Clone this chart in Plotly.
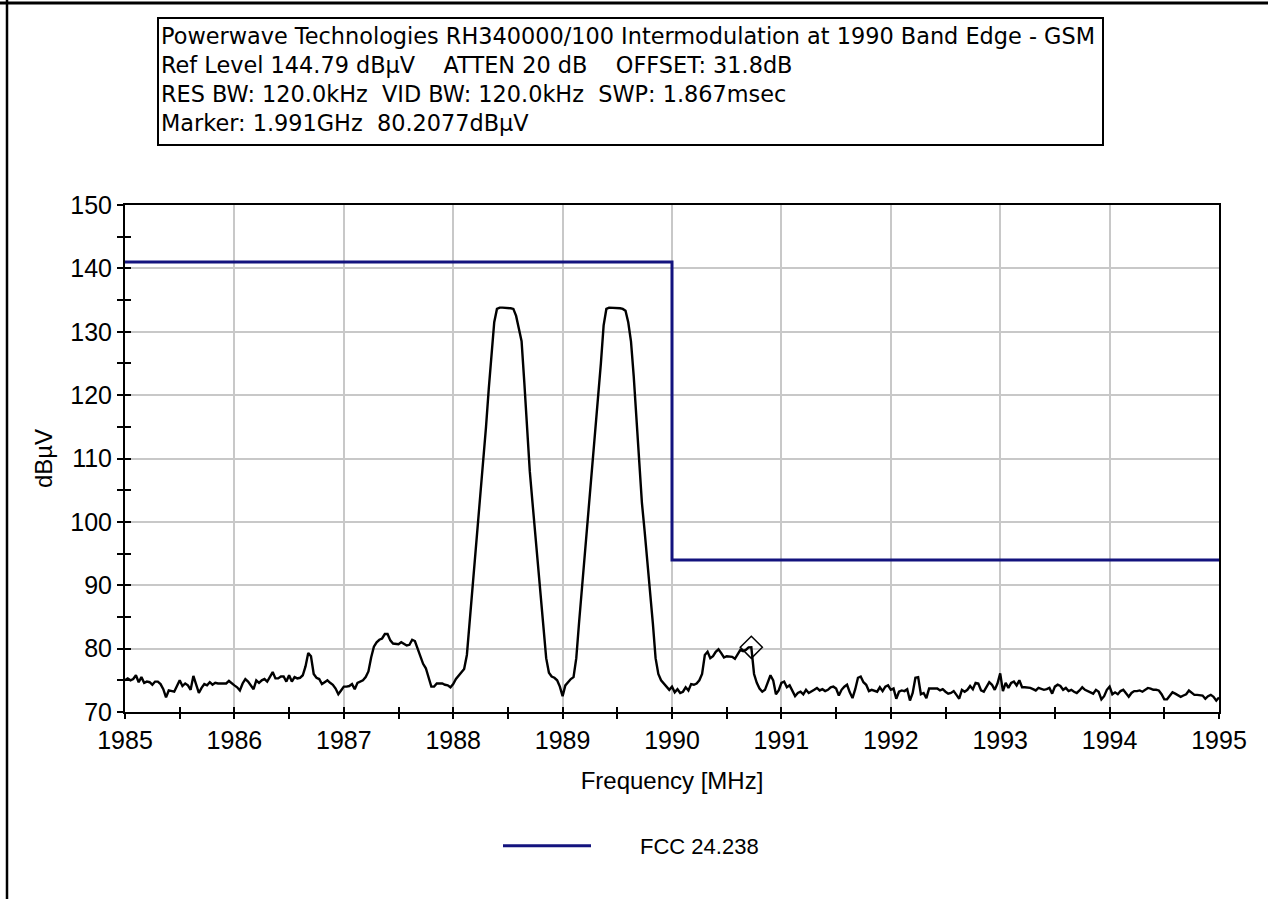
import numpy as np
import plotly.graph_objects as go

# Sweep: 1985-1995 MHz, 401 points (25 kHz spacing)
freq_start_mhz = 1985.0
freq_stop_mhz = 1995.0
sweep_points = 401

# Measured trace level (dBµV), one row per 0.5 MHz
trace_level = [
    75.0, 75.3, 75.0, 75.2, 75.8, 74.7, 75.5, 74.6, 74.8, 74.7, 74.3, 74.8, 74.8, 74.4, 73.6, 72.3, 73.4, 73.3, 73.2, 74.1,
    75.0, 74.1, 74.5, 74.2, 73.5, 75.7, 74.4, 73.0, 73.8, 74.4, 74.2, 74.7, 74.3, 74.6, 74.5, 74.5, 74.6, 74.5, 74.9, 74.5,
    74.2, 73.9, 73.4, 74.5, 75.2, 74.8, 74.2, 73.6, 75.0, 74.6, 75.0, 75.2, 74.8, 75.5, 76.3, 75.3, 75.3, 75.6, 75.6, 74.8,
    75.8, 74.8, 75.5, 75.3, 75.4, 75.8, 77.2, 79.3, 78.8, 76.0, 75.4, 75.2, 74.4, 74.7, 75.0, 74.6, 74.3, 73.7, 72.8, 73.4,
    74.0, 74.0, 74.1, 74.4, 73.6, 74.6, 74.8, 75.0, 75.5, 76.4, 78.6, 80.3, 81.0, 81.4, 81.6, 82.3, 82.3, 81.3, 80.8, 80.7,
    80.7, 81.0, 80.8, 80.5, 80.6, 81.4, 81.2, 80.0, 78.8, 77.6, 76.9, 75.5, 74.0, 74.0, 74.5, 74.5, 74.5, 74.3, 74.2, 73.9,
    74.4, 75.2, 75.8, 76.2, 76.8, 79.0, 84.0, 89.0, 94.0, 99.0, 104.0, 109.0, 115.0, 121.0, 127.0, 131.5, 133.6, 133.8, 133.8, 133.8,
    133.8, 133.7, 133.6, 132.5, 130.5, 128.5, 122.0, 115.0, 108.0, 103.0, 98.0, 93.0, 88.0, 83.0, 78.5, 76.2, 75.6, 75.4, 75.0, 74.0,
    72.5, 74.2, 74.8, 75.2, 75.5, 78.5, 84.0, 89.0, 94.0, 99.0, 104.0, 109.0, 114.0, 119.0, 125.0, 131.0, 133.6, 133.8, 133.8, 133.8,
    133.8, 133.7, 133.6, 133.3, 131.5, 128.5, 123.0, 116.0, 108.5, 103.0, 98.5, 94.0, 89.0, 84.0, 78.5, 76.0, 75.0, 74.5, 74.0, 73.5,
    74.0, 73.1, 73.6, 73.0, 73.2, 73.9, 73.4, 74.4, 74.3, 74.5, 75.0, 76.0, 79.0, 79.5, 78.5, 78.8, 79.5, 79.9, 79.3, 78.6,
    78.8, 78.8, 78.7, 78.4, 79.2, 79.8, 79.6, 79.8, 80.2, 80.2077, 76.0, 74.6, 73.7, 73.2, 73.5, 74.6, 75.8, 75.0, 72.8, 73.4,
    74.6, 74.8, 73.9, 74.2, 73.3, 72.5, 73.0, 73.2, 72.8, 73.5, 73.0, 73.2, 73.5, 73.8, 73.4, 73.6, 73.3, 73.5, 73.9, 74.0,
    73.7, 72.6, 73.5, 74.0, 74.3, 73.1, 72.2, 73.6, 75.4, 75.6, 74.7, 74.3, 73.3, 73.5, 73.3, 73.2, 73.9, 73.3, 74.0, 74.2,
    73.5, 73.7, 72.1, 73.2, 73.4, 73.3, 73.6, 71.8, 73.0, 75.4, 75.5, 72.8, 73.0, 72.2, 73.7, 73.7, 73.8, 73.7, 73.4, 73.6,
    73.2, 72.9, 73.0, 73.3, 72.7, 72.1, 73.5, 73.2, 73.5, 74.1, 73.6, 74.6, 74.5, 73.4, 73.2, 74.0, 74.7, 74.3, 73.5, 74.5,
    76.1, 73.3, 74.6, 73.8, 74.6, 74.8, 74.2, 75.0, 73.9, 73.9, 73.9, 73.8, 73.6, 73.4, 73.8, 73.7, 73.5, 73.6, 73.8, 72.9,
    74.0, 74.3, 74.1, 73.5, 73.8, 73.3, 73.5, 73.2, 73.0, 73.4, 73.9, 73.5, 73.3, 73.0, 72.9, 73.5, 73.2, 72.0, 72.5, 73.5,
    74.0, 72.8, 73.1, 72.8, 73.3, 73.5, 73.0, 72.4, 73.0, 73.3, 73.3, 73.4, 73.2, 73.5, 73.8, 73.7, 73.5, 73.5, 73.4, 72.8,
    72.0, 72.0, 72.6, 73.1, 72.9, 72.6, 72.4, 72.6, 72.8, 73.4, 73.1, 72.7, 72.7, 72.7, 72.6, 72.1, 72.5, 72.7, 72.4, 71.8,
    72.3,
]

# FCC 24.238 emission limit (step at the 1990 MHz band edge)
limit_freq = [1985.0, 1990.0, 1995.0]
limit_level = [141.0, 94.0, 94.0]
limit_name = "FCC 24.238"

# Analyzer marker
marker_freq = [1990.725]
marker_level = [80.2077]

header_lines = [
    "Powerwave Technologies RH340000/100 Intermodulation at 1990 Band Edge - GSM",
    "Ref Level 144.79 dBµV    ATTEN 20 dB    OFFSET: 31.8dB",
    "RES BW: 120.0kHz  VID BW: 120.0kHz  SWP: 1.867msec",
    "Marker: 1.991GHz  80.2077dBµV",
]

x_title = "Frequency [MHz]"
y_title = "dBµV"
x_range = [1985, 1995]
y_range = [70, 150]

freq = np.linspace(freq_start_mhz, freq_stop_mhz, sweep_points)

# Page geometry (pixels)
W, H = 1268, 899
ML, MR, MT, MB = 125, 49, 205, 187
PW, PH = W - ML - MR, H - MT - MB


def px_x(p):
    return (p - ML) / PW


def px_y(p):
    return (H - MB - p) / PH


FONT = "Liberation Sans, Arial, sans-serif"
NAVY = "#13137e"

fig = go.Figure()

fig.add_trace(go.Scatter(
    x=freq, y=trace_level, mode="lines",
    line=dict(color="black", width=2.4),
    showlegend=False, hoverinfo="x+y",
))

fig.add_trace(go.Scatter(
    x=marker_freq, y=marker_level, mode="markers",
    marker=dict(symbol="diamond-open", size=17, color="black", line=dict(width=1.5)),
    showlegend=False,
))

fig.add_trace(go.Scatter(
    x=limit_freq, y=limit_level, mode="lines",
    name="\u2003\u2003" + limit_name,
    line=dict(color=NAVY, width=3, shape="hv"),
    xaxis="x2", yaxis="y2",
))

tick_font = dict(family=FONT, size=25, color="black")

fig.update_layout(
    width=W, height=H, autosize=False,
    margin=dict(l=ML, r=MR, t=MT, b=MB, pad=0),
    paper_bgcolor="white", plot_bgcolor="white",
    font=dict(family=FONT, color="black"),
    xaxis=dict(
        range=x_range, dtick=1, tick0=1985,
        showgrid=True, gridcolor="#c8c8c8", gridwidth=2,
        showline=True, linecolor="black", linewidth=2, mirror=True,
        ticks="outside", ticklen=5, tickwidth=1.5, tickcolor="black",
        minor=dict(dtick=0.5, ticks="outside", ticklen=5, tickwidth=1.5,
                   tickcolor="black", showgrid=False),
        tickfont=tick_font, zeroline=False,
        title=dict(text=x_title, font=dict(family=FONT, size=24), standoff=19),
    ),
    yaxis=dict(
        range=y_range, dtick=10, tick0=70,
        showgrid=True, gridcolor="#c8c8c8", gridwidth=2,
        showline=True, linecolor="black", linewidth=2, mirror=True,
        ticks="outside", ticklen=6, tickwidth=1.5, tickcolor="black",
        minor=dict(dtick=5, ticks="outside", ticklen=6, tickwidth=1.5,
                   tickcolor="black", showgrid=False),
        tickfont=tick_font, zeroline=False,
        title=dict(text=y_title, font=dict(family=FONT, size=24), standoff=11),
    ),
    xaxis2=dict(
        range=x_range, dtick=1, tick0=1985, overlaying="x", anchor="y", side="bottom",
        showgrid=False, showline=False, showticklabels=False, zeroline=False,
        ticks="inside", ticklen=5, tickwidth=1.5, tickcolor="black",
        minor=dict(dtick=0.5, ticks="inside", ticklen=5, tickwidth=1.5,
                   tickcolor="black", showgrid=False),
    ),
    yaxis2=dict(
        range=y_range, dtick=10, tick0=70, overlaying="y", anchor="x", side="left",
        showgrid=False, showline=False, showticklabels=False, zeroline=False,
        ticks="inside", ticklen=6, tickwidth=1.5, tickcolor="black",
        minor=dict(dtick=5, ticks="inside", ticklen=6, tickwidth=1.5,
                   tickcolor="black", showgrid=False),
    ),
    legend=dict(
        orientation="h", x=px_x(498), xanchor="left", y=px_y(825), yanchor="top",
        font=dict(family=FONT, size=22, color="black"),
        itemwidth=88, bgcolor="rgba(0,0,0,0)",
    ),
    hovermode="closest",
)

# Header box with the analyzer settings
fig.add_shape(type="rect", xref="paper", yref="paper",
              x0=px_x(158), x1=px_x(1103), y0=px_y(145), y1=px_y(18),
              line=dict(color="black", width=2), fillcolor="white", layer="above")
fig.add_annotation(
    xref="paper", yref="paper", x=px_x(159), y=px_y(21),
    xanchor="left", yanchor="top", align="left", showarrow=False,
    text="<br>".join(header_lines),
    font=dict(family="DejaVu Sans, sans-serif", size=22.4, color="black"),
)

# Page frame (top and left edges)
fig.add_shape(type="line", xref="paper", yref="paper",
              x0=px_x(0), x1=px_x(W), y0=px_y(3), y1=px_y(3),
              line=dict(color="black", width=3), layer="above")
fig.add_shape(type="line", xref="paper", yref="paper",
              x0=px_x(7), x1=px_x(7), y0=px_y(0), y1=px_y(H),
              line=dict(color="black", width=2.5), layer="above")

fig.write_html("out.html")
